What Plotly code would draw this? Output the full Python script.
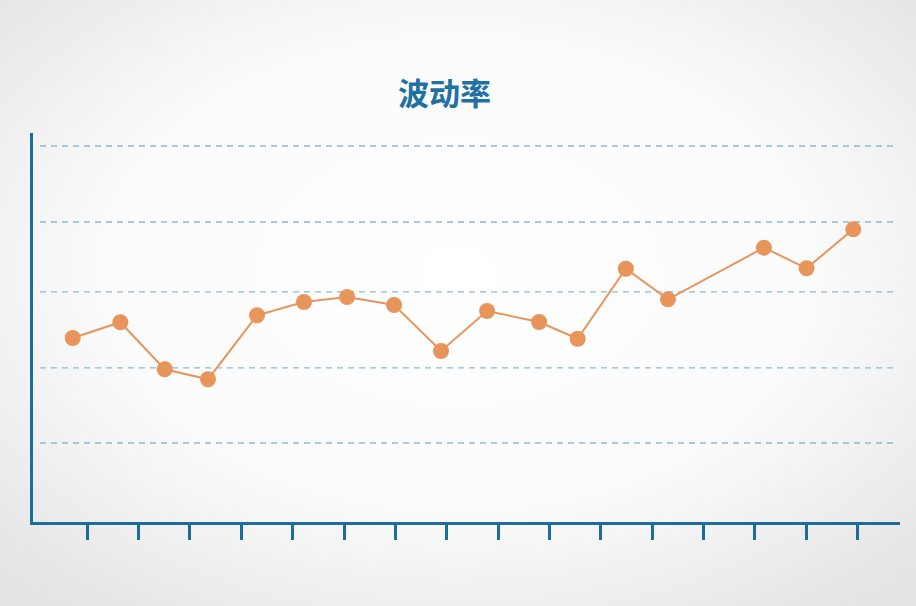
import base64
import plotly.graph_objects as go

# ---- data ----
TITLE = "波动率"
x_pos = [0.716, 1.643, 2.508, 3.351, 4.306, 5.22, 6.06, 6.975, 7.89, 8.786,
         9.80, 10.55, 11.49, 12.31, 14.18, 15.01, 15.92]
y_val = [2.447, 2.656, 2.031, 1.898, 2.749, 2.926, 2.992, 2.886, 2.274, 2.806,
         2.66, 2.437, 3.368, 2.961, 3.648, 3.374, 3.892]
x_ticks = list(range(1, 17))
grid_y = [1.05, 2.05, 3.06, 3.99, 5.0]

AXIS = "#1b6d9c"
TITLE_C = "#1f70a3"
ORANGE = "#e8955b"
GRID = "#86bcd7"

svg = (
    '<svg xmlns="http://www.w3.org/2000/svg" width="916" height="606">'
    '<defs><radialGradient id="g" cx="50%" cy="45%" r="70%">'
    '<stop offset="0%" stop-color="#ffffff"/>'
    '<stop offset="55%" stop-color="#fbfbfb"/>'
    '<stop offset="100%" stop-color="#e4e4e4"/>'
    '</radialGradient></defs>'
    '<rect width="916" height="606" fill="url(#g)"/></svg>'
)
bg_src = "data:image/svg+xml;base64," + base64.b64encode(svg.encode()).decode()

L, R, T, B = 33, 16, 133, 84
PW, PH = 916 - L - R, 606 - T - B

fig = go.Figure()
fig.add_trace(go.Scatter(
    x=x_pos, y=y_val, mode="lines+markers",
    line=dict(color=ORANGE, width=2),
    marker=dict(color=ORANGE, size=16, line=dict(width=0)),
    hoverinfo="skip", showlegend=False,
))

for gy in grid_y:
    fig.add_shape(type="line", xref="paper", yref="y",
                  x0=(40 - L) / PW, x1=(898 - L) / PW, y0=gy, y1=gy,
                  line=dict(color=GRID, width=1.4, dash="6px,5px"), layer="below")

fig.update_layout(
    width=916, height=606,
    margin=dict(l=L, r=R, t=T, b=B),
    paper_bgcolor="#f2f2f2",
    plot_bgcolor="rgba(0,0,0,0)",
    images=[dict(source=bg_src, xref="paper", yref="paper", x=-L / PW, y=1 + T / PH,
                 sizex=916 / PW, sizey=606 / PH, xanchor="left", yanchor="top",
                 sizing="stretch", layer="below")],
    title=dict(text=TITLE, x=444.5 / 916, xanchor="center", y=1 - 94 / 606, yanchor="middle",
               font=dict(family="Noto Sans CJK SC", size=31, color=TITLE_C, weight="bold")),
    xaxis=dict(range=[-0.058, 16.83], showgrid=False, zeroline=False,
               showline=True, linecolor=AXIS, linewidth=3,
               tickmode="array", tickvals=x_ticks, ticks="outside",
               ticklen=15, tickwidth=3, tickcolor=AXIS, showticklabels=False),
    yaxis=dict(range=[0, 5.173], showgrid=False, zeroline=False,
               showline=True, linecolor=AXIS, linewidth=3,
               tickmode="array", tickvals=grid_y, ticks="", showticklabels=False),
)

fig.write_html("out.html", config={"displayModeBar": False},
               post_script="document.body.style.margin='0';")
